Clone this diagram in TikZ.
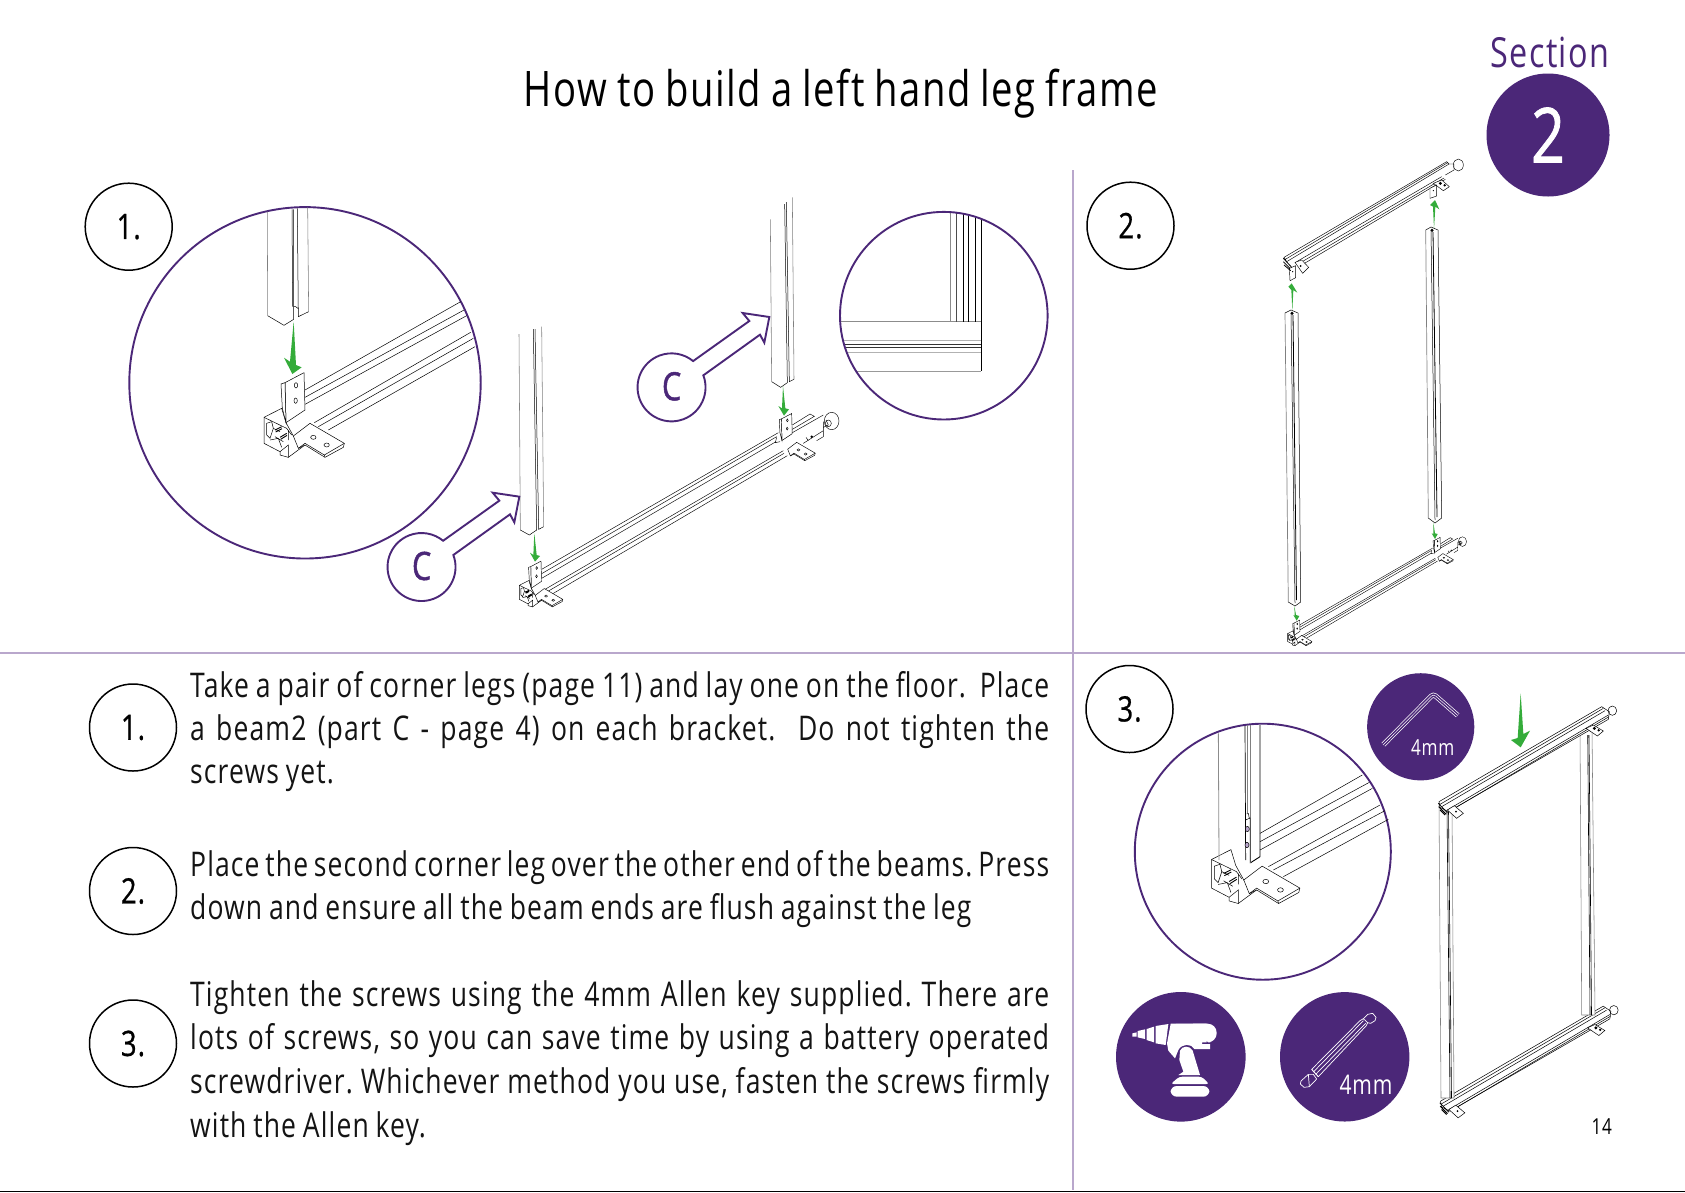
\documentclass[tikz,border=0pt]{standalone}
\usepackage{fontspec}
\setmainfont[FakeStretch=0.78,LetterSpace=3.3,WordSpace=0.85]{Open Sans}
\definecolor{pur}{HTML}{4B2778}
\definecolor{grn}{HTML}{34AC3A}
\definecolor{rule}{HTML}{B9A7CC}
\newcommand{\heavy}{\addfontfeature{FakeBold=0.7}}
\tikzset{
  tl/.style={line width=.5pt},
  gl/.style={line width=.55pt,draw=black!50},
  pl/.style={draw=pur,line width=1.9pt},
  numc/.style={circle,draw=black,line width=1.5pt,minimum size=87pt,inner sep=0pt,font=\fontsize{35}{35}\selectfont\heavy},
  txt/.style={anchor=base west,inner sep=0pt,font=\fontsize{34}{34}\selectfont,text=black!92},
  arrowg/.style={fill=grn,draw=none},
  disc/.style={fill=pur,draw=none},
}
\newcommand{\J}[1]{\makebox[859pt][s]{#1}}
% everything below is in zoom-1 units: origin at top-right of bracket
\newcommand{\footplate}{%
  \begin{scope}[shift={(-672,-607)}]
  \draw[tl,fill=white] (640,798)--(690,760)--(793,820)--(790,832)--(735,862)--(675,825)--(655,835)--cycle;
  \draw[tl] (733,855)--(793,820) (733,855)--(735,862) (733,855)--(675,820)--(655,835);
  \draw[tl] (700,802) ellipse[x radius=8,y radius=6];
  \draw[tl] (740,825) ellipse[x radius=8,y radius=6];
  \end{scope}}
\newcommand{\bracketplate}{%
  \begin{scope}[shift={(-672,-607)}]
  \draw[tl,fill=white] (615,638)--(672,608)--(675,720)--(618,758)--cycle;
  \draw[tl,fill=white] (603,642)--(615,638)--(618,758)--(607,715)--cycle;
  \draw[tl] (648,646) ellipse[x radius=5,y radius=8];
  \draw[tl] (647,692) ellipse[x radius=5,y radius=8];
  \end{scope}}
\newcommand{\cornerbase}{%
  \begin{scope}[shift={(-672,-607)}]
  \draw[tl,fill=white] (552,742)--(605,715)--(618,758)--(640,798)--(675,825)--(625,862)--(600,855)--(600,845)--(552,820)--cycle;
  \draw[tl] (552,742)--(620,775)--(635,795) (625,780)--(625,810) (600,845)--(625,825)--(625,862);
  \draw[tl] (560,760)--(575,755)--(580,775)--(570,805)--(560,795)--cycle;
  \draw[tl] (570,810)--(595,805)--(605,832) (580,775)--(600,785) (585,800)--(610,815);
  \draw[line width=.9pt] (585,780)--(605,770) (587,786)--(606,776) (600,802)--(620,790) (602,808)--(621,796);
  \end{scope}
  \footplate}
\newcommand{\fullbeam}{% zoom-2 units, origin at near bracket
  \begin{scope}[shift={(-483,-1143)}]
  \draw[tl] (485,1168)--(1195,758) (1237,735)--(1290,702)--(1303,709)--(1237,748)
            (485,1181)--(1190,770) (485,1195)--(1188,785) (1237,758)--(1330,705)
            (495,1228)--(1210,812) (502,1235)--(1212,820) (515,1243)--(1222,827)
            (1270,790)--(1330,752) (1330,725)--(1330,770)--(1310,782) (1330,742)--(1345,735)
            (1338,720)--(1345,735) (1278,772)--(1285,782);
  \fill (1295,770) circle[radius=4];
  \draw[tl] (1355,723) ellipse[x radius=22,y radius=26];
  \draw[tl] (1345,730) ellipse[x radius=9,y radius=10];
  \begin{scope}[shift={(1250,787)},scale=.54,shift={(-18,-153)}]\footplate\end{scope}
  \begin{scope}[shift={(1235,700)},scale=.54]\bracketplate\end{scope}
  \draw[tl] (1190,772)--(1186,788)--(1200,785);
  \end{scope}
  \begin{scope}[scale=.54]\cornerbase\bracketplate\end{scope}}
\newcommand{\topbeam}{% zoom-4 units
  \draw[tl] (72,322)--(560,35)--(567,42)--(80,335)--cycle (76,328)--(563,38)
            (110,335)--(545,80) (118,340)--(552,84) (125,345)--(556,88)
            (567,42)--(582,42)--(582,60)--(556,75);
  \draw[tl,fill=white] (105,337)--(125,330)--(146,352)--(128,370)--cycle;
  \fill (122,348) circle[radius=3];
  \draw[tl,fill=white] (88,355)--(107,347)--(107,383)--(90,392)--cycle;
  \fill (98,365) circle[radius=2];
  \draw[tl,fill=white] (520,100)--(545,90)--(568,110)--(550,122)--cycle;
  \fill (541,100) circle[radius=5] (554,106) circle[radius=4];
  \draw[tl,fill=white] (510,115)--(530,105)--(530,138)--(510,145)--cycle;
  \fill (520,122) circle[radius=2];
  \draw[tl] (595,45) ellipse[x radius=15,y radius=18];
  \draw[line width=.8pt] (70,325)--(95,352) (70,335)--(90,355) (72,345)--(92,362);
  }
\newcommand{\framebeam}{% zoom-8 units
  \draw[tl,fill=white] (237,395)--(725,110)--(748,125)--(745,148)--(265,425)--(240,412)--cycle;
  \draw[tl] (240,403)--(730,115) (245,410)--(735,122) (262,420)--(745,135) (270,423)--(747,140);
  \draw[tl,fill=white] (262,420)--(283,407)--(310,430)--(290,445)--cycle;
  \fill (288,425) circle[radius=3];
  \draw[tl,fill=white] (678,175)--(700,165)--(730,183)--(712,198)--cycle;
  \fill (703,175) circle[radius=5] (716,181) circle[radius=4];
  \draw[tl] (757,122) ellipse[x radius=13,y radius=14];
  \draw[line width=.8pt] (235,400)--(262,428) (236,410)--(258,432) (240,420)--(255,435);
  }
% callout C (zoom-2 units, #1 node name, #2 shift)
\newcommand{\callout}[2]{%
  \begin{scope}[shift={#2}]
  \filldraw[pl,fill=white,line join=miter] (220,1125) arc[start angle=-20.7,end angle=309.4,radius=102]
     -- (358,962) -- (338,938) -- (418,950) -- (403,1027) -- (390,1003) -- cycle;
  \node[inner sep=0pt,text=pur,font=\fontsize{39}{39}\selectfont\addfontfeature{FakeBold=1.2}] (#1) at (125,1158) {C};
  \end{scope}}
\begin{document}
\frenchspacing
\begin{tikzpicture}[x=1pt,y=-1pt]
\useasboundingbox (0,0) rectangle (1685,1192);
\fill[white] (0,0) rectangle (1685,1192);
% rules
\draw[rule,line width=2pt] (0,653)--(1685,653) (1072.5,170)--(1072.5,1190);
\draw[black,line width=1.2pt] (0,1191.2)--(1685,1191.2);
% header
\node[inner sep=0pt,font=\fontsize{49}{49}\selectfont] (title) at (841,94) {How to build a left hand leg frame};
\node[inner sep=0pt,text=pur,font=\fontsize{41.5}{41.5}\selectfont] (sec) at (1550,52) {Section};
\node[circle,disc,minimum size=123pt,inner sep=0pt,text=white,font=\fontsize{76}{76}\selectfont\addfontfeature{FakeBold=1}] (two) at (1548,135) {2};

%%% Panel 1
\draw[pl] (305,382.8) circle[radius=175.7];
\begin{scope}[shift={(80,170)},scale=1/3]
  \draw[tl] (675,660)--(1142,395) (675,682)--(1152,420) (675,703)--(1160,437)
            (703,758)--(1172,487) (715,770)--(1180,505) (745,780)--(1185,530);
  \draw[gl] (562,125)--(563,437);
  \draw[tl] (563,437)--(612,466)--(641,448);
  \draw[tl] (641,118)--(641,448) (636,118)--(638,410) (652,115)--(655,440)--(686,425);
  \draw[gl] (683,112)--(686,425);
  \draw[tl] (641,410)--(647,410)--(655,416);
  \begin{scope}[shift={(672,607)}]\cornerbase\bracketplate\end{scope}
  \fill[arrowg] (641,455)--(648,585)--(665,592)--(637,612)--(612,563)--(630,575)--cycle;
\end{scope}

%%% main assembly
\begin{scope}[shift={(380,180)},scale=1/3]
  \begin{scope}[shift={(483,1143)},scale=1,tl/.style={line width=.45pt}]\fullbeam\end{scope}
  % legs
  \draw[gl] (417,462)--(421,1050);
  \draw[tl] (421,1050)--(448,1065)--(470,1050)--(460,447) (465,447)--(476,1048)--(491,1040);
  \draw[gl] (485,440)--(491,1040);
  \draw[gl] (1171,118)--(1175,605);
  \draw[tl] (1175,605)--(1202,622)--(1222,608)--(1214,72) (1219,66)--(1228,605)--(1242,598);
  \draw[gl] (1237,52)--(1242,598);
  \fill[arrowg] (463,1060)--(470,1125)--(480,1128)--(465,1145)--(450,1118)--(460,1125)--cycle;
  \fill[arrowg] (1209,618)--(1216,685)--(1227,688)--(1212,707)--(1195,678)--(1206,685)--cycle;
  \callout{cA}{(0,0)}
  \callout{cB}{(750,-539)}
\end{scope}

%%% small circle top right
\begin{scope}[shift={(820,190)},scale=1/3]
  \draw[draw=black!45,line width=.8pt] (392,66)--(392,395) (62,395)--(484,395);
  \draw[draw=black!70,line width=.8pt] (408,68)--(408,395);
  \draw[line width=.7pt] (429,71)--(429,395);
  \draw[line width=1pt] (446,75)--(446,395);
  \draw[line width=.7pt] (467,80)--(467,395);
  \draw[line width=.9pt] (484,87)--(484,543);
  \draw[draw=black!30,line width=.8pt] (69,451)--(484,451) (80,487)--(484,487);
  \draw[draw=black!80,line width=1.1pt] (72,463)--(484,463) (75,472)--(484,472);
  \draw[draw=black!40,line width=.8pt] (108,543)--(484,543);
\end{scope}
\draw[pl] (943.8,315.7) circle[radius=103.8];

%%% Panel 2
\begin{scope}[shift={(1260,150)},scale=1/3,tl/.style={line width=.45pt}]
  \topbeam
  \fill[arrowg] (97,482)--(100,420)--(112,428)--(95,400)--(85,410)--(94,420)--cycle;
  \fill[arrowg] (522,237)--(526,170)--(538,178)--(525,150)--(510,165)--(519,170)--cycle;
\end{scope}
\begin{scope}[shift={(1260,500)},scale=1/3,tl/.style={line width=.4pt}]
  \begin{scope}[shift={(119,360)},scale=.56]\fullbeam\end{scope}
\end{scope}
% panel 2 legs
\draw[gl,line width=.7pt] (1285,313)--(1288.3,602);
\draw[tl] (1285,313)--(1291,310)--(1298,313) (1291,313)--(1295,603);
\draw[line width=.8pt] (1293,315)--(1296.5,600);
\draw[tl] (1298,313)--(1300.7,602)--(1295,606)--(1288.3,602);
\draw[gl,line width=.7pt] (1425.7,230)--(1428.3,518);
\draw[tl] (1425.7,230)--(1431,227)--(1438,230) (1431,230)--(1435,520);
\draw[line width=.8pt] (1433,232)--(1437,517);
\draw[tl] (1438,230)--(1441.7,518)--(1435,523)--(1428.3,518);
\begin{scope}[shift={(1260,150)},scale=1/3]
  \fill (96,490) circle[radius=5] (516,241) circle[radius=5];
\end{scope}
\begin{scope}[shift={(1260,500)},scale=1/3]
  \fill[arrowg] (103,318)--(108,345)--(118,348)--(110,362)--(100,345)--(104,348)--cycle;
  \fill[arrowg] (520,68)--(525,100)--(533,102)--(525,117)--(515,100)--(520,102)--cycle;
\end{scope}

%%% Panel 3: detail
\draw[pl] (1262.8,851.7) circle[radius=128];
\begin{scope}[shift={(1120,720)},scale=1/3]
  \draw[tl] (420,340)--(727,165) (420,365)--(748,187) (420,390)--(757,205)
            (445,440)--(780,255) (460,450)--(795,272) (490,470)--(805,298);
  \begin{scope}[shift={(406.5,270)},scale=1.1]\cornerbase\end{scope}
  \draw[draw=black!45,line width=.8pt] (295,40)--(297,420);
  \draw[line width=.7pt] (375,18)--(377,420);
  \draw[draw=black!50,line width=.7pt] (383,16)--(383,280) (392,15)--(392,425);
  \draw[line width=.9pt] (420,15)--(420,410)--(392,428);
  \draw[tl] (377,300)--(390,294)--(390,430) (380,282)--(385,280)--(388,296);
  \draw[tl,fill=rule] (382,327) ellipse[x radius=6,y radius=8];
  \draw[tl,fill=rule] (381,375) ellipse[x radius=6,y radius=8];
\end{scope}

%%% Allen-key disc
\node[circle,disc,minimum size=107.2pt,inner sep=0pt] (keydisc) at (1420.7,726.8) {};
\begin{scope}[shift={(1360,670)},scale=1/3]
  \coordinate (ka) at (70,224); \coordinate (kb) at (220,72); \coordinate (kc) at (293,136);
  \draw[white,line width=5pt,rounded corners=3pt] (ka)--(kb)--(kc);
  \draw[pur,line width=3.6pt,rounded corners=3pt] (ka)--(kb)--(kc);
  \draw[white,line width=.5pt,rounded corners=3pt] (ka)--(kb)--(kc);
  \node[inner sep=0pt,text=white,font=\fontsize{22}{22}\selectfont] (k4) at (218,232) {4mm};
  \fill[arrowg] (482,70)--(490,192)--(510,182)--(482,232)--(453,210)--(473,204)--cycle;
\end{scope}

%%% Drill disc
\node[circle,disc,minimum size=129.6pt,inner sep=0pt] (drilldisc) at (1180.8,1056.8) {};
\begin{scope}[shift={(1100,980)},scale=1/3,x=1pt,y=-1pt]
 \fill[white] (97,160)--(110,157)--(110,170)--(97,170)--cycle;
 \fill[white] (113,153)--(135,148)--(135,177)--(113,172)--cycle;
 \fill[white] (140,147)--(162,140)--(162,187)--(140,180)--cycle;
 \fill[white] (167,138)--(205,132)--(197,195)--(167,190)--cycle;
 \fill[white,rounded corners=9pt] (212,131)--(350,131)--(350,187)--(305,187)--(305,131)--cycle;
 \fill[white] (212,131)--(320,131)--(320,187)--(306,187)--(306,192)--(330,192)--(330,207)--(283,207)
   .. controls (275,190) and (245,190) .. (235,210)--(225,235)--(205,212)--(201,190)--cycle;
 \fill[white] (240,212) .. controls (245,197) and (270,195) .. (278,212)--(300,285)--(235,285)--(250,275)--(238,240)--cycle;
 \fill[white,rounded corners=3pt] (212,312)--(238,290)--(305,290)--(328,312)--cycle;
 \fill[white,rounded corners=6pt] (212,318)--(328,318)--(328,350)--(212,350)--cycle;
\end{scope}

%%% Bit disc
\node[circle,disc,minimum size=129.4pt,inner sep=0pt] (bitdisc) at (1344.7,1056.8) {};
\begin{scope}[shift={(1100,980)},scale=1/3]
 \draw[white,line width=.7pt,line join=round] (635,268)--(780,122)--(790,116)--(803,128)--(798,138)--(655,290)--cycle;
 \draw[white,line width=.7pt] (640,276)--(790,122) (647,283)--(797,130);
 \draw[white,line width=.7pt,line join=round] (790,116)--(803,103)--(818,100)--(828,112)--(825,122)--(812,130)--(803,128);
 \draw[white,line width=.7pt,line join=round] (603,303)--(625,283)--(640,283)--(650,297)--(628,320)--(612,322)--(601,312)--cycle;
 \draw[white,line width=.7pt] (625,283)--(628,320) (635,268)--(655,290);
 \node[inner sep=0pt,text=white,font=\fontsize{27}{27}\selectfont] (b4) at (798,313) {4mm};
\end{scope}

%%% Panel 3: frame
\begin{scope}[shift={(1361.5,969.5)},scale=1/3]\framebeam\end{scope}
\draw[gl,fill=white] (1439,806)--(1441,1098)--(1454,1098)--(1452,806)--cycle;
\draw[line width=.6pt] (1447,812)--(1450,1098) (1448.5,812)--(1451.5,1098);
\draw[gl,fill=white] (1580,730)--(1581.7,1015)--(1595,1015)--(1592,730)--cycle;
\draw[line width=.6pt] (1587.7,735)--(1590,1015) (1589,735)--(1591.5,1015);
\begin{scope}[shift={(1360,670)},scale=1/3]\framebeam\end{scope}

%%% step circles and numbers
\node[numc] (s1) at (128.7,226.7) {1.};
\node[numc] (s2) at (1130.5,225.7) {2.};
\node[numc] (s3) at (1129.5,709) {3.};
\node[numc] (t1) at (133,727.5) {1.};
\node[numc] (t2) at (133,891) {2.};
\node[numc] (t3) at (133,1043.5) {3.};

%%% text
\node[txt] (p1a) at (190,697) {\J{Take a pair of corner legs (page 11) and lay one on the floor.\ \ Place}};
\node[txt] (p1b) at (190,740) {\J{a beam2 (part C - page 4) on each bracket.\ \ Do not tighten the}};
\node[txt] (p1c) at (190,783.5) {screws yet.};
\node[txt] (p2a) at (190,876.5) {\J{Place the second corner leg over the other end of the beams. Press}};
\node[txt] (p2b) at (190,919.5) {down and ensure all the beam ends are flush against the leg};
\node[txt] (p3a) at (190,1006.5) {\J{Tighten the screws using the 4mm Allen key supplied. There are}};
\node[txt] (p3b) at (190,1049.5) {\J{lots of screws, so you can save time by using a battery operated}};
\node[txt] (p3c) at (190,1093.5) {\J{screwdriver. Whichever method you use, fasten the screws firmly}};
\node[txt] (p3d) at (190,1137.5) {with the Allen key.};
\node[inner sep=0pt,font=\fontsize{22}{22}\selectfont] (pg) at (1601.7,1126.7) {14};
\end{tikzpicture}
\end{document}
